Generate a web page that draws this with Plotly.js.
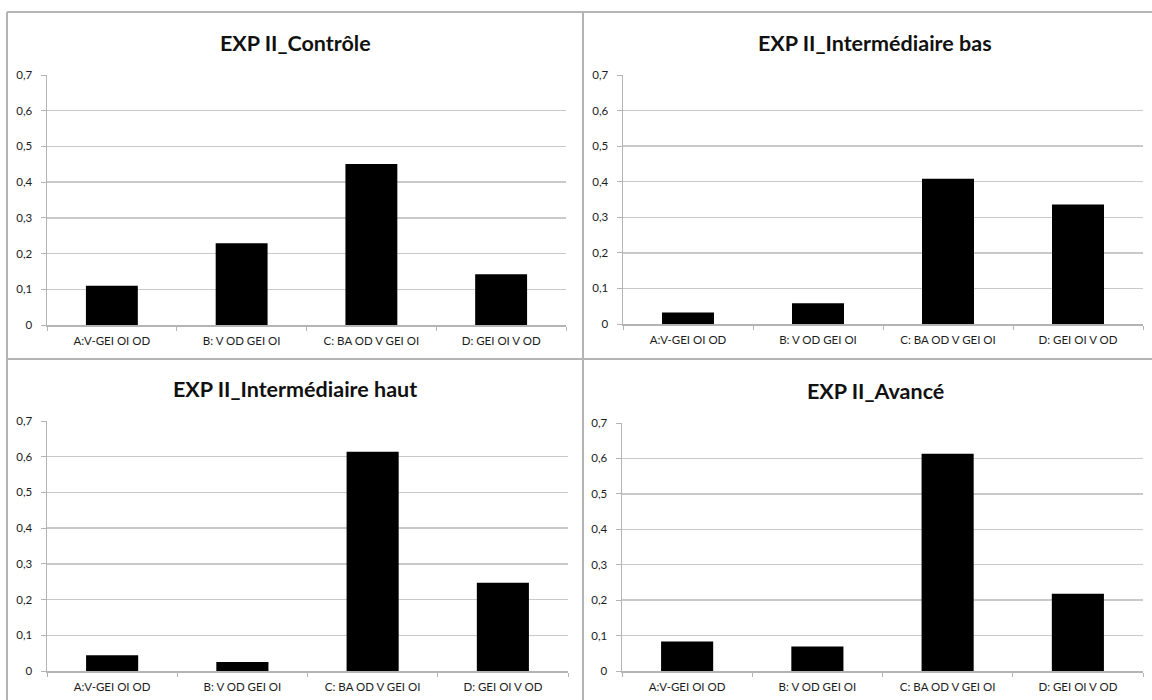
<!DOCTYPE html>
<html>
<head>
<meta charset="utf-8">
<script src="https://cdn.plot.ly/plotly-3.0.1.min.js"></script>
<style>html,body{margin:0;padding:0;background:#fff;}#chart{width:1152px;height:700px;}</style>
</head>
<body>
<div id="chart"></div>
<script>
const categories = ["A:V-GEI OI OD", "B: V OD GEI OI", "C: BA OD V GEI OI", "D: GEI OI V OD"];
const panelTitles = ["EXP II_Contrôle", "EXP II_Intermédiaire bas", "EXP II_Intermédiaire haut", "EXP II_Avancé"];
const controle = [0.110, 0.229, 0.451, 0.142];
const intermediaireBas = [0.032, 0.058, 0.408, 0.336];
const intermediaireHaut = [0.044, 0.025, 0.614, 0.247];
const avance = [0.083, 0.069, 0.613, 0.218];
const yTickVals = [0, 0.1, 0.2, 0.3, 0.4, 0.5, 0.6, 0.7];
const yTickText = ["0", "0,1", "0,2", "0,3", "0,4", "0,5", "0,6", "0,7"];

const W = 1152, H = 700;
const series = [controle, intermediaireBas, intermediaireHaut, avance];
const px = v => v / W;
const py = v => 1 - v / H;

const xDomains = [[px(47), px(566)], [px(623), px(1143)], [px(47), px(568)], [px(622), px(1143)]];
const yDomains = [[py(325), py(75)], [py(324), py(75)], [py(671), py(421)], [py(671), py(423)]];

const font = "Lato, 'Open Sans', sans-serif";
const gridColor = "#c9c9c9";
const lineColor = "#b4b4b4";
const tickFont = {family: font, size: 11.5, color: "#1c1c1c"};

const traces = series.map((vals, i) => ({
  type: "bar",
  x: categories,
  y: vals,
  xaxis: i === 0 ? "x" : "x" + (i + 1),
  yaxis: i === 0 ? "y" : "y" + (i + 1),
  marker: {color: "#000000", line: {width: 0}},
  hoverinfo: "x+y",
  showlegend: false
}));

const layout = {
  width: W, height: H,
  margin: {l: 0, r: 0, t: 0, b: 0},
  paper_bgcolor: "#ffffff",
  plot_bgcolor: "#ffffff",
  separators: ", ",
  bargap: 0.6,
  font: {family: font, color: "#1c1c1c", size: 11},
  showlegend: false,
  shapes: [],
  annotations: []
};

const titleCenters = [[295, 43], [875, 43], [295, 389], [875, 391]];

for (let i = 0; i < 4; i++) {
  const sx = i === 0 ? "" : String(i + 1);
  layout["xaxis" + sx] = {
    domain: xDomains[i],
    anchor: "y" + sx,
    type: "category",
    showgrid: false,
    showline: true,
    linecolor: lineColor,
    linewidth: 1.5,
    ticks: "outside",
    tickson: "boundaries",
    ticklen: 4,
    tickcolor: lineColor,
    ticklabelstandoff: 5,
    tickfont: tickFont,
    zeroline: false,
    fixedrange: true
  };
  layout["yaxis" + sx] = {
    domain: yDomains[i],
    anchor: "x" + sx,
    range: [0, 0.7],
    tickvals: yTickVals,
    ticktext: yTickText,
    showgrid: true,
    gridcolor: gridColor,
    gridwidth: 1.5,
    showline: true,
    linecolor: lineColor,
    linewidth: 1.5,
    ticks: "outside",
    ticklen: 5,
    tickcolor: lineColor,
    ticklabelstandoff: 6,
    tickfont: tickFont,
    zeroline: false,
    fixedrange: true
  };
  layout.annotations.push({
    text: "<b>" + panelTitles[i] + "</b>",
    xref: "paper", yref: "paper",
    x: px(titleCenters[i][0]), y: py(titleCenters[i][1]),
    xanchor: "center", yanchor: "middle",
    showarrow: false,
    font: {family: font, size: 21.5, color: "#111111"}
  });
}

const borderColor = "#b4b4b4";
const border = (x0, y0, x1, y1) => ({
  type: "line", xref: "paper", yref: "paper",
  x0: px(x0), y0: py(y0), x1: px(x1), y1: py(y1),
  line: {color: borderColor, width: 2}
});
layout.shapes.push(border(7, 12, 1152, 12));
layout.shapes.push(border(7, 12, 7, 700));
layout.shapes.push(border(583, 12, 583, 700));
layout.shapes.push(border(7, 359, 1152, 359));

Plotly.newPlot("chart", traces, layout, {displayModeBar: false, staticPlot: true});
</script>
</body>
</html>
